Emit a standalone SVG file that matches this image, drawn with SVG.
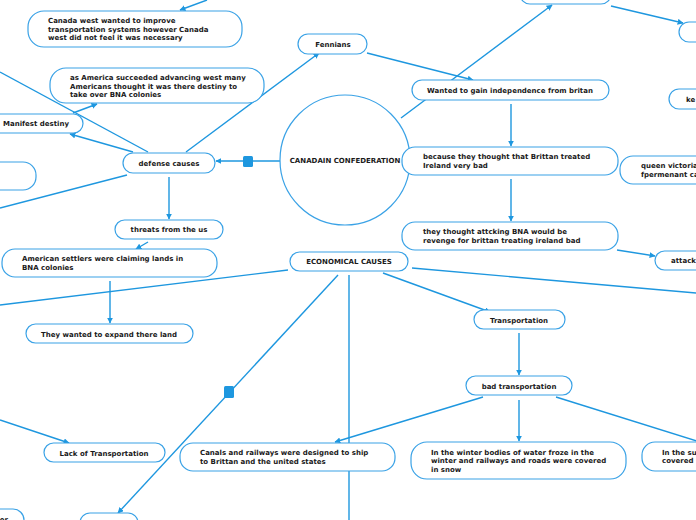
<svg xmlns="http://www.w3.org/2000/svg" width="696" height="520" viewBox="0 0 696 520">
<style>
.n{fill:#fff;stroke:#3aa2e6;stroke-width:1.2}
.t{font-family:"DejaVu Sans",Verdana,sans-serif;font-weight:bold;font-size:7px;fill:#1a1a1a}
.c{text-anchor:middle}
.l{stroke:#1e97df;stroke-width:1.4;fill:none}
.a{marker-end:url(#ar)}
.h{fill:#1e97df}
</style>
<defs>
<marker id="ar" viewBox="0 0 10 10" refX="9" refY="5" markerWidth="6" markerHeight="6" markerUnits="userSpaceOnUse" orient="auto">
<path d="M0,0 L10,5 L0,10 z" fill="#1e97df"/>
</marker>
</defs>
<rect width="696" height="520" fill="#fff"/>
<g id="connectors">
<line class="l a" x1="207" y1="0" x2="180" y2="10"/>
<line class="l" x1="280" y1="161" x2="216" y2="161" marker-end="url(#ar)"/>
<rect class="h" x="243" y="156" width="10" height="11" rx="1.5"/>
<line class="l a" x1="401" y1="118" x2="552" y2="5"/>
<line class="l a" x1="611" y1="6" x2="683" y2="23"/>
<line class="l a" x1="367" y1="53" x2="473" y2="80"/>
<line class="l a" x1="186" y1="152" x2="319" y2="53"/>
<line class="l a" x1="133" y1="152" x2="70" y2="134"/>
<line class="l a" x1="73" y1="113" x2="97" y2="104"/>
<line class="l" x1="148" y1="152" x2="0" y2="72"/>
<line class="l" x1="127" y1="175" x2="0" y2="208"/>
<line class="l a" x1="169" y1="177" x2="169" y2="219"/>
<line class="l a" x1="148" y1="242" x2="136" y2="249"/>
<line class="l a" x1="110" y1="281" x2="110" y2="323"/>
<line class="l" x1="288" y1="270" x2="0" y2="305"/>
<line class="l a" x1="383" y1="273" x2="490" y2="312"/>
<line class="l" x1="412" y1="268" x2="696" y2="293"/>
<line class="l" x1="349" y1="275" x2="349" y2="520"/>
<line class="l a" x1="338" y1="275" x2="118" y2="513"/>
<rect class="h" x="224" y="386" width="10" height="12" rx="1.5"/>
<line class="l a" x1="519" y1="333" x2="519" y2="375"/>
<line class="l a" x1="483" y1="397" x2="335" y2="442"/>
<line class="l a" x1="519" y1="400" x2="519" y2="441"/>
<line class="l" x1="556" y1="397" x2="700" y2="442"/>
<line class="l a" x1="511" y1="104" x2="511" y2="146"/>
<line class="l a" x1="511" y1="179" x2="511" y2="221"/>
<line class="l a" x1="617" y1="250" x2="655" y2="256"/>
<line class="l a" x1="0" y1="420" x2="69" y2="443"/>
</g>
<g id="center">
<circle class="n" cx="345" cy="160" r="65"/>
<text class="t c" x="345" y="163">CANADAIN CONFEDERATION</text>
</g>
<g id="n-top"><rect class="n" x="520" y="-16" width="91" height="20" rx="10"/></g>
<g id="n-topright"><rect class="n" x="679" y="22" width="40" height="20" rx="10"/></g>
<g id="n-canada-west"><rect class="n" x="28" y="11" width="214" height="36" rx="16"/>
<text class="t" x="48" y="23">Canada west wanted to improve</text>
<text class="t" x="48" y="31.5">transportation systems however Canada</text>
<text class="t" x="48" y="40">west did not feel it was necessary</text></g>
<g id="n-america"><rect class="n" x="50" y="68" width="214" height="35" rx="16"/>
<text class="t" x="70" y="80">as America succeeded advancing west many</text>
<text class="t" x="70" y="88.5">Americans thought it was there destiny to</text>
<text class="t" x="70" y="97">take over BNA colonies</text></g>
<g id="n-manifest"><rect class="n" x="-20" y="114" width="103" height="19" rx="9.5"/>
<text class="t" x="3" y="126">Manifest destiny</text></g>
<g id="n-defense"><rect class="n" x="123" y="153" width="92" height="20" rx="10"/>
<text class="t c" x="169" y="165.5">defense causes</text></g>
<g id="n-left"><rect class="n" x="-30" y="162" width="66" height="28" rx="13"/></g>
<g id="n-fennians"><rect class="n" x="298" y="34" width="69" height="20" rx="10"/>
<text class="t c" x="333" y="46.5">Fennians</text></g>
<g id="n-wanted"><rect class="n" x="412" y="80" width="197" height="20" rx="10"/>
<text class="t c" x="510" y="92.5">Wanted to gain independence from britan</text></g>
<g id="n-because"><rect class="n" x="402" y="147" width="216" height="28" rx="13"/>
<text class="t" x="423" y="159">because they thought that Brittan treated</text>
<text class="t" x="423" y="167.5">Ireland very bad</text></g>
<g id="n-revenge"><rect class="n" x="402" y="222" width="216" height="28" rx="13"/>
<text class="t" x="423" y="234">they thought attcking BNA would be</text>
<text class="t" x="423" y="242.5">revenge for brittan treating ireland bad</text></g>
<g id="n-queen"><rect class="n" x="620" y="156" width="110" height="28" rx="13"/>
<text class="t" x="641" y="168">queen victoria</text>
<text class="t" x="641" y="176.5">fpermenant ca</text></g>
<g id="n-ke"><rect class="n" x="669" y="89" width="60" height="20" rx="10"/>
<text class="t" x="686" y="101.5">ke</text></g>
<g id="n-attack"><rect class="n" x="655" y="251" width="70" height="19" rx="9.5"/>
<text class="t" x="671" y="263">attack</text></g>
<g id="n-threats"><rect class="n" x="115" y="220" width="108" height="19" rx="9.5"/>
<text class="t c" x="169" y="232">threats from the us</text></g>
<g id="n-settlers"><rect class="n" x="2" y="249" width="215" height="28" rx="13"/>
<text class="t" x="22" y="261">American settlers were claiming lands in</text>
<text class="t" x="22" y="269.5">BNA colonies</text></g>
<g id="n-expand"><rect class="n" x="26" y="324" width="167" height="19" rx="9.5"/>
<text class="t c" x="109" y="336.5">They wanted to expand there land</text></g>
<g id="n-economical"><rect class="n" x="290" y="252" width="118" height="19" rx="9.5"/>
<text class="t c" x="349" y="264">ECONOMICAL CAUSES</text></g>
<g id="n-transportation"><rect class="n" x="474" y="310" width="91" height="19" rx="9.5"/>
<text class="t c" x="519" y="322.5">Transportation</text></g>
<g id="n-bad"><rect class="n" x="466" y="376" width="106" height="19" rx="9.5"/>
<text class="t c" x="519" y="388.5">bad transportation</text></g>
<g id="n-canals"><rect class="n" x="180" y="443" width="215" height="28" rx="13"/>
<text class="t" x="200" y="455">Canals and railways were designed to ship</text>
<text class="t" x="200" y="463.5">to Brittan and the united states</text></g>
<g id="n-winter"><rect class="n" x="411" y="442" width="215" height="37" rx="16"/>
<text class="t" x="431" y="454.5">In the winter bodies of water froze in the</text>
<text class="t" x="431" y="463">winter and railways and roads were covered</text>
<text class="t" x="431" y="471.5">in snow</text></g>
<g id="n-summer"><rect class="n" x="642" y="442" width="90" height="29" rx="13"/>
<text class="t" x="662" y="454.5">In the su</text>
<text class="t" x="662" y="463">covered</text></g>
<g id="n-lack"><rect class="n" x="44" y="443" width="121" height="19" rx="9.5"/>
<text class="t c" x="104" y="455.5">Lack of Transportation</text></g>
<g id="n-bottomleft"><rect class="n" x="-40" y="509" width="64" height="24" rx="11"/>
<text class="t" x="8" y="522" text-anchor="end">er</text></g>
<g id="n-bottom"><rect class="n" x="80" y="513" width="58" height="20" rx="10"/></g>
</svg>
